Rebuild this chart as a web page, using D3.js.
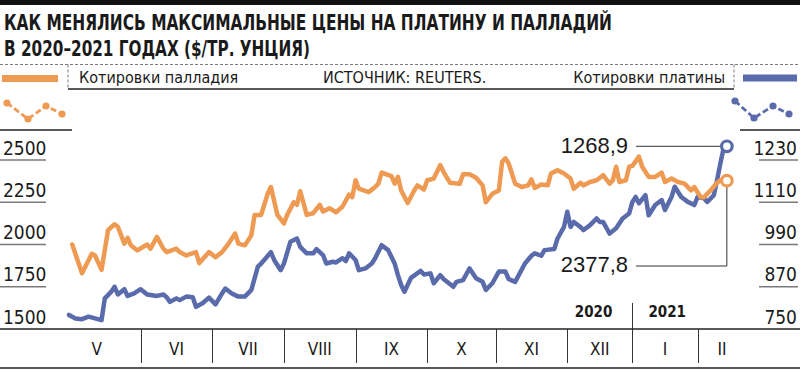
<!DOCTYPE html>
<html>
<head>
<meta charset="utf-8">
<script src="https://cdn.jsdelivr.net/npm/d3@7"></script>
<style>
  body{margin:0;background:#fff;}
  svg{display:block;}
</style>
</head>
<body>
<div id="canvas"></div>
<script>
// titles and labels
var title1 = 'КАК МЕНЯЛИСЬ МАКСИМАЛЬНЫЕ ЦЕНЫ НА ПЛАТИНУ И ПАЛЛАДИЙ';
var title2 = 'В 2020–2021 ГОДАХ ($/ТР. УНЦИЯ)';
var legendPd = 'Котировки палладия',
    legendPt = 'Котировки платины',
    source = 'ИСТОЧНИК: REUTERS.';

// months (length in trading days) and years
var months = ['V','VI','VII','VIII','IX','X','XI','XII','I','II'];
var monthDays = [27,22,22,22,22,21,22,20,20,15];
var years = ['2020','2021'];

// axis ticks
var ticksPd = [1500,1750,2000,2250,2500];
var ticksPt = [750,870,990,1110,1230];

// [trading day, $/oz]
var palladium = [[6,2000],[9,1830],[12,1945],[13,1935],[15,1850],[17,2085],[19,2120],[20,2105],[22,2005],[23,2040],[24,1995],[26,1965],[29,2000],[30,1975],[32,2045],[34,1975],[35,1955],[38,1975],[39,1955],[41,1935],[44,1955],[45,1890],[48,1955],[50,1925],[52,1955],[54,2005],[56,2065],[57,2005],[59,1995],[61,2055],[62,2175],[64,2175],[66,2300],[67,2340],[69,2175],[71,2125],[72,2175],[74,2250],[75,2235],[76,2315],[78,2175],[80,2185],[82,2235],[83,2195],[85,2215],[87,2190],[89,2225],[91,2295],[92,2280],[93,2380],[94,2330],[97,2310],[99,2340],[100,2360],[101,2425],[104,2405],[105,2360],[106,2400],[107,2320],[109,2245],[111,2320],[112,2350],[114,2325],[115,2380],[117,2390],[119,2470],[120,2430],[122,2365],[125,2360],[126,2415],[128,2415],[130,2395],[132,2350],[133,2250],[135,2300],[137,2320],[138,2490],[139,2510],[140,2480],[142,2360],[144,2340],[146,2350],[147,2385],[148,2335],[150,2355],[152,2350],[153,2420],[155,2440],[157,2420],[159,2390],[160,2330],[162,2365],[163,2350],[165,2370],[167,2380],[169,2410],[171,2360],[172,2380],[173,2460],[174,2370],[176,2380],[177,2460],[178,2465],[180,2520],[181,2460],[183,2400],[185,2400],[187,2425],[188,2370],[190,2390],[192,2370],[194,2360],[196,2320],[197,2340],[199,2280],[200,2280],[202,2320],[204,2365],[205,2380],[207,2377.8]];

var platinum = [[5,790],[7,780],[9,778],[11,785],[15,775],[16,837],[18,856],[19,870],[20,848],[22,863],[23,844],[25,851],[27,863],[29,848],[32,844],[34,848],[35,840],[36,827],[38,837],[39,832],[41,842],[43,840],[44,813],[46,823],[48,839],[50,820],[52,851],[53,865],[55,851],[57,842],[59,842],[61,861],[63,927],[64,936],[67,968],[68,946],[70,917],[71,936],[73,998],[75,1007],[76,983],[78,965],[80,965],[81,977],[83,960],[84,936],[86,941],[87,939],[89,951],[90,943],[91,965],[93,946],[94,917],[96,922],[98,936],[99,951],[101,988],[103,974],[105,936],[106,903],[107,875],[108,856],[110,895],[113,915],[114,905],[116,908],[117,880],[119,903],[120,892],[123,870],[124,884],[126,889],[128,922],[130,894],[132,884],[133,861],[135,880],[137,913],[139,913],[140,892],[142,884],[145,936],[147,958],[148,965],[150,958],[151,974],[154,977],[155,1007],[157,1040],[158,1083],[159,1040],[160,1054],[162,1040],[163,1031],[165,1045],[167,1064],[168,1054],[169,1054],[171,1021],[173,1036],[175,1064],[177,1078],[178,1111],[179,1125],[180,1107],[182,1130],[183,1073],[185,1102],[187,1116],[188,1088],[190,1125],[191,1154],[193,1125],[195,1111],[197,1102],[198,1125],[200,1121],[201,1111],[203,1130],[204,1173],[205,1220],[206,1263],[207,1268.9]];

var W = 800, H = 372;
var orange = '#ee9a52', blue = '#5a6bab', grey = '#7a7a7a';
var NARROW = '"Liberation Sans Narrow","DejaVu Sans Condensed","Liberation Sans",sans-serif';
var SANS = '"Liberation Sans",Arial,sans-serif';

var svg = d3.select('#canvas').append('svg')
    .attr('width',W).attr('height',H);

// scales
var totalDays = d3.sum(monthDays);
var x = d3.scaleLinear().domain([0,totalDays]).range([52.7,746.4]);
var yPd = d3.scaleLinear().domain([1500,2500]).range([329,160]);
var yPt = d3.scaleLinear().domain([750,1230]).range([329,160]);

// header
svg.append('rect').attr('x',0).attr('y',0).attr('width',W).attr('height',5).attr('fill','#111');
svg.append('text').attr('x',4).attr('y',30).text(title1)
    .attr('font-family',NARROW).attr('font-weight','bold').attr('font-size',21)
    .attr('textLength',608).attr('lengthAdjust','spacingAndGlyphs').attr('fill','#1a1a1a');
svg.append('text').attr('x',4).attr('y',56).text(title2)
    .attr('font-family',NARROW).attr('font-weight','bold').attr('font-size',21)
    .attr('textLength',306).attr('lengthAdjust','spacingAndGlyphs').attr('fill','#1a1a1a');

// legend row
svg.append('line').attr('x1',0).attr('x2',W).attr('y1',64.5).attr('y2',64.5)
    .attr('stroke',grey).attr('stroke-width',1).attr('stroke-dasharray','3,2');
[68,734].forEach(function(xx){
    svg.append('line').attr('x1',xx).attr('x2',xx).attr('y1',64.5).attr('y2',89)
        .attr('stroke',grey).attr('stroke-width',1).attr('stroke-dasharray','3,2');
});
svg.append('line').attr('x1',68).attr('x2',734).attr('y1',89).attr('y2',89)
    .attr('stroke','#222').attr('stroke-width',1.3);
svg.append('rect').attr('x',2).attr('y',75).attr('width',56).attr('height',7).attr('fill',orange);
svg.append('rect').attr('x',743).attr('y',74.5).attr('width',54).attr('height',7).attr('fill',blue);

var legendText = svg.append('g').attr('font-family',NARROW).attr('font-size',16).attr('fill','#1a1a1a');
legendText.append('text').attr('x',79).attr('y',83).text(legendPd);
legendText.append('text').attr('x',323).attr('y',83).text(source);
legendText.append('text').attr('x',725).attr('y',83).attr('text-anchor','end').text(legendPt);

// little dotted-line glyphs
function glyph(pts,color){
    var g = svg.append('g');
    g.append('path').attr('d',d3.line()(pts)).attr('fill','none')
        .attr('stroke',color).attr('stroke-width',2.8).attr('stroke-dasharray','6,3');
    g.selectAll('circle').data(pts).enter().append('circle')
        .attr('cx',function(d){return d[0]}).attr('cy',function(d){return d[1]})
        .attr('r',3.6).attr('fill',color);
}
glyph([[7,103],[28,119],[46,106],[62,114]],orange);
glyph([[735,101],[754,118],[773,106],[789,114]],blue);
svg.append('line').attr('x1',0).attr('x2',72).attr('y1',130).attr('y2',130).attr('stroke','#222').attr('stroke-width',1.3);
svg.append('line').attr('x1',740).attr('x2',W).attr('y1',130).attr('y2',130).attr('stroke','#222').attr('stroke-width',1.3);

// y axes: labels with short underlines
var axL = svg.append('g').attr('font-family',NARROW).attr('font-size',19).attr('fill','#1a1a1a');
axL.selectAll('line').data(ticksPd.slice(1)).enter().append('line')
    .attr('x1',0).attr('x2',46)
    .attr('y1',function(d){return yPd(d)}).attr('y2',function(d){return yPd(d)})
    .attr('stroke',grey).attr('stroke-width',1.6);
axL.selectAll('text').data(ticksPd).enter().append('text')
    .attr('x',3).attr('y',function(d){return yPd(d)-5.5})
    .text(function(d){return d});

var axR = svg.append('g').attr('font-family',NARROW).attr('font-size',19).attr('fill','#1a1a1a');
axR.selectAll('line').data(ticksPt.slice(1)).enter().append('line')
    .attr('x1',759).attr('x2',798)
    .attr('y1',function(d){return yPt(d)}).attr('y2',function(d){return yPt(d)})
    .attr('stroke',grey).attr('stroke-width',1.6);
axR.selectAll('text').data(ticksPt).enter().append('text')
    .attr('x',797).attr('y',function(d){return yPt(d)-5.5}).attr('text-anchor','end')
    .text(function(d){return d});

// x axis: month bands
var starts = [0];
monthDays.forEach(function(d,i){starts.push(starts[i]+d)});
var bands = months.map(function(m,i){return {name:m,a:starts[i],b:starts[i+1]}});

svg.append('line').attr('x1',0).attr('x2',W).attr('y1',329).attr('y2',329).attr('stroke','#222').attr('stroke-width',1.5);
svg.append('line').attr('x1',0).attr('x2',W).attr('y1',368).attr('y2',368).attr('stroke','#222').attr('stroke-width',1.5);

var xAx = svg.append('g');
xAx.selectAll('line').data(bands.slice(1)).enter().append('line')
    .attr('x1',function(d){return Math.round(x(d.a))+0.5}).attr('x2',function(d){return Math.round(x(d.a))+0.5})
    .attr('y1',function(d){return d.name==='I'?303:329}).attr('y2',363)
    .attr('stroke','#333').attr('stroke-width',1);
xAx.selectAll('text').data(bands).enter().append('text')
    .attr('x',function(d){return (x(d.a)+x(d.b))/2}).attr('y',355)
    .attr('text-anchor','middle').attr('font-family',NARROW).attr('font-size',17).attr('fill','#1a1a1a')
    .text(function(d){return d.name});

var jan = bands[8];
svg.append('text').attr('x',x(jan.a)-20).attr('y',317).attr('text-anchor','end')
    .attr('font-family',NARROW).attr('font-weight','bold').attr('font-size',15).attr('fill','#1a1a1a').text(years[0]);
svg.append('text').attr('x',x(jan.a)+16).attr('y',317)
    .attr('font-family',NARROW).attr('font-weight','bold').attr('font-size',15).attr('fill','#1a1a1a').text(years[1]);

// series
var linePd = d3.line().x(function(d){return x(d[0])}).y(function(d){return yPd(d[1])});
var linePt = d3.line().x(function(d){return x(d[0])}).y(function(d){return yPt(d[1])});

// annotations (leaders under the lines)
var lastPd = palladium[palladium.length-1], lastPt = platinum[platinum.length-1];
var fmt = function(v){return d3.format('.1f')(v).replace('.',',')};
svg.append('path')
    .attr('d','M636,'+yPt(lastPt[1])+'H'+(x(lastPt[0])-6))
    .attr('fill','none').attr('stroke','#333').attr('stroke-width',1);
svg.append('path')
    .attr('d','M636,266H'+x(lastPd[0])+'V'+(yPd(lastPd[1])+6))
    .attr('fill','none').attr('stroke','#333').attr('stroke-width',1);

svg.append('path').datum(platinum).attr('d',linePt)
    .attr('fill','none').attr('stroke',blue).attr('stroke-width',4.5)
    .attr('stroke-linejoin','round').attr('stroke-linecap','round');
svg.append('path').datum(palladium).attr('d',linePd)
    .attr('fill','none').attr('stroke',orange).attr('stroke-width',4.5)
    .attr('stroke-linejoin','round').attr('stroke-linecap','round');

svg.append('circle').attr('cx',x(lastPt[0])).attr('cy',yPt(lastPt[1])).attr('r',5.3)
    .attr('fill','#fff').attr('stroke',blue).attr('stroke-width',3.2);
svg.append('circle').attr('cx',x(lastPd[0])).attr('cy',yPd(lastPd[1])).attr('r',5.3)
    .attr('fill','#fff').attr('stroke',orange).attr('stroke-width',3.2);

svg.append('text').attr('x',628).attr('y',yPt(lastPt[1])+7).attr('text-anchor','end')
    .attr('font-family',SANS).attr('font-size',22).attr('fill','#1a1a1a').text(fmt(lastPt[1]));
svg.append('text').attr('x',628).attr('y',272).attr('text-anchor','end')
    .attr('font-family',SANS).attr('font-size',22).attr('fill','#1a1a1a').text(fmt(lastPd[1]));
</script>
</body>
</html>
